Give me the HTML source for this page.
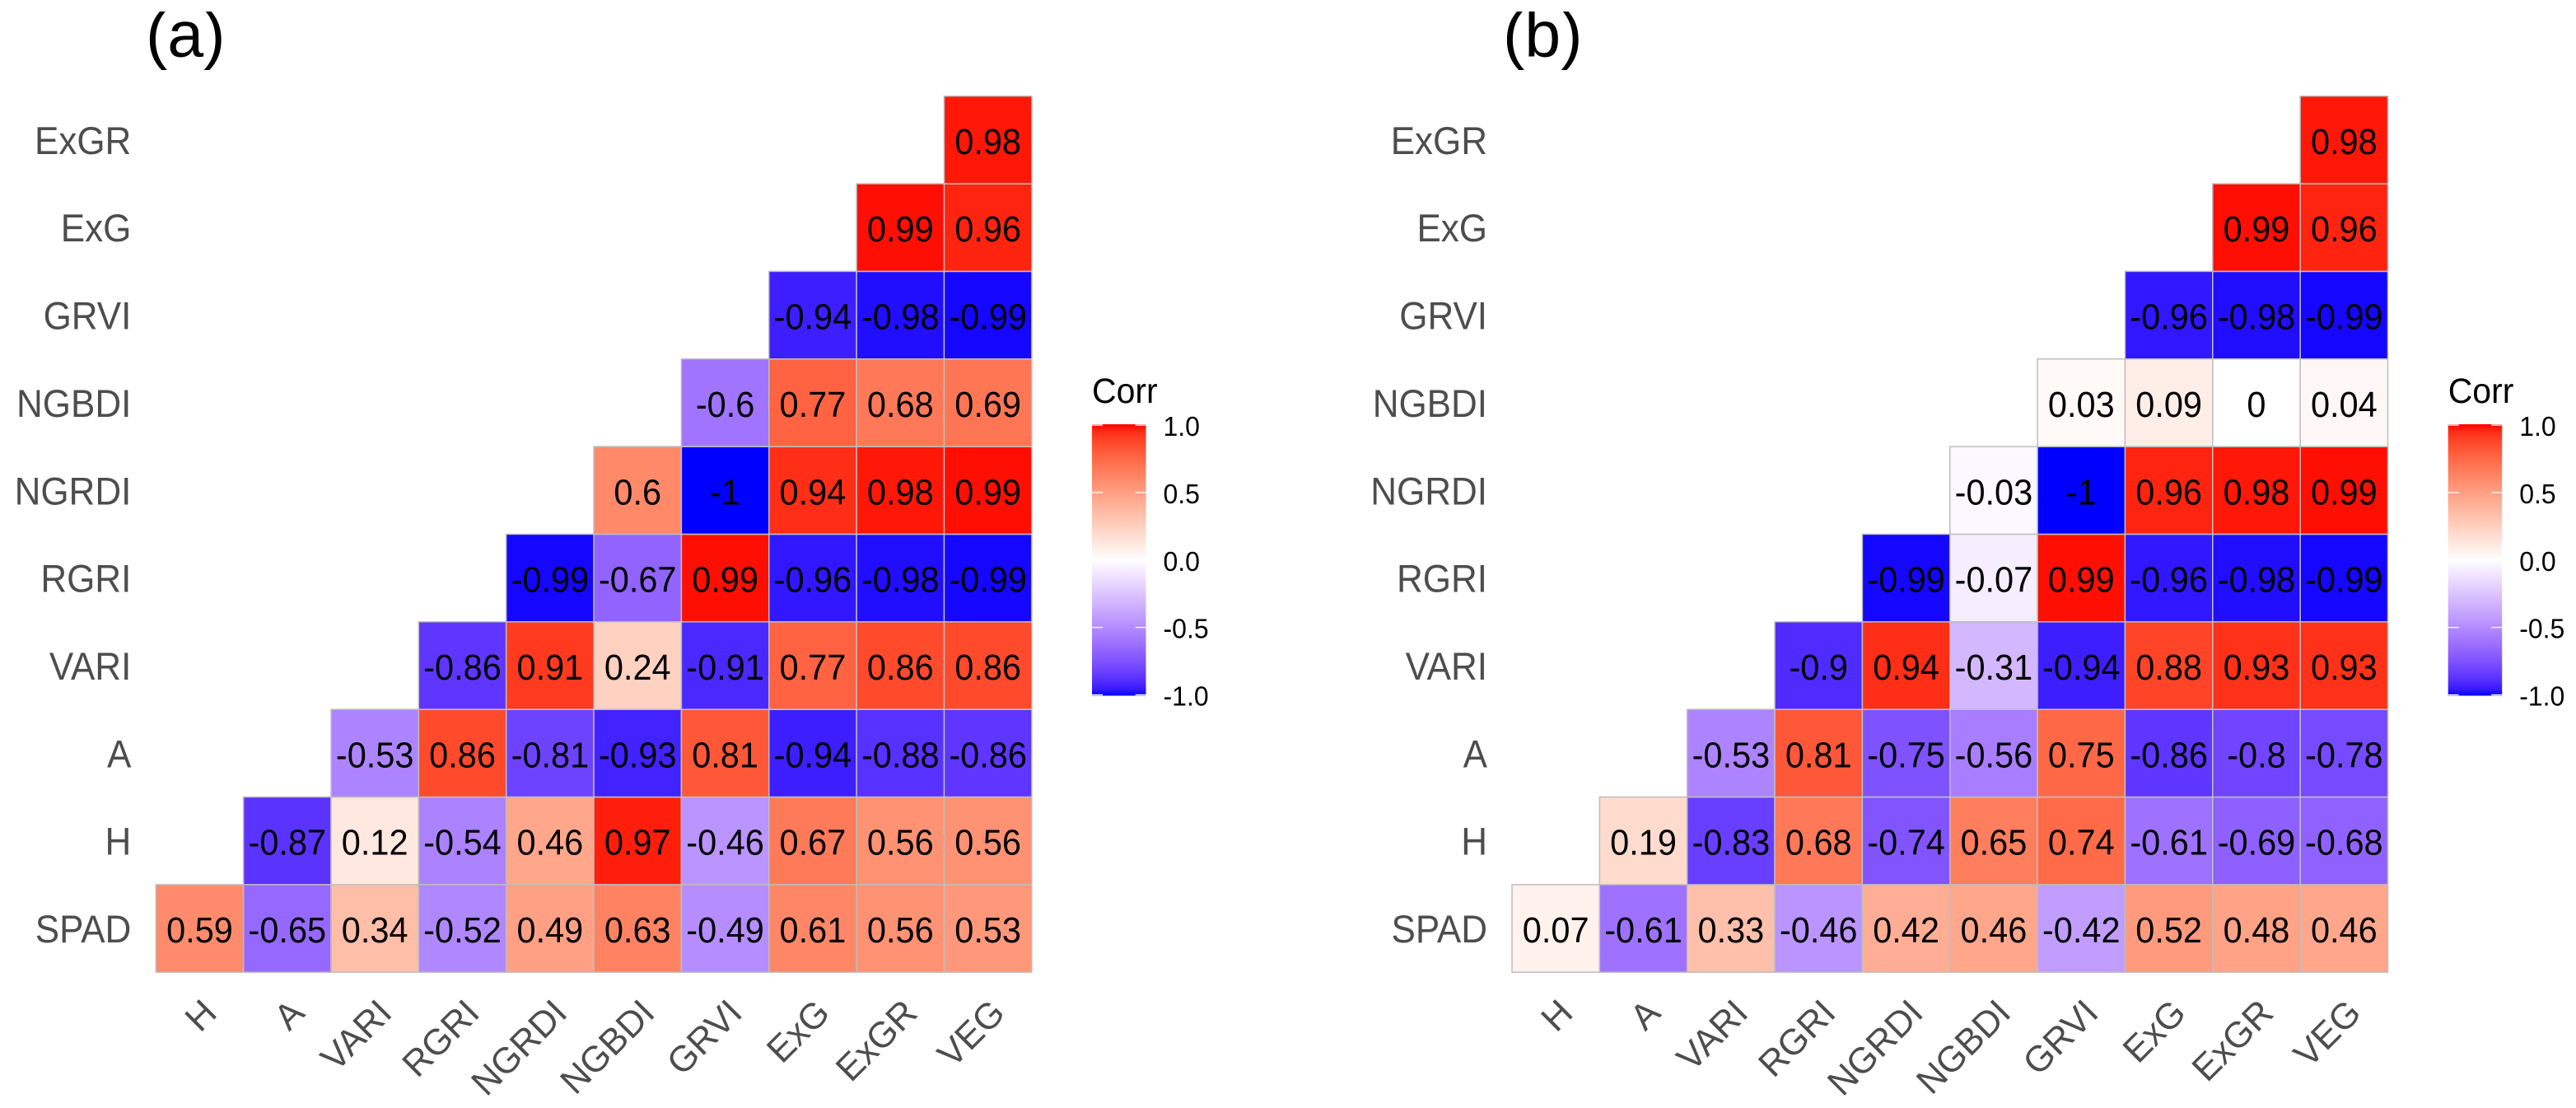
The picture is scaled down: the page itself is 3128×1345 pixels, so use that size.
<!DOCTYPE html>
<html lang="en">
<head>
<meta charset="utf-8">
<title>Correlation heatmaps (a) and (b)</title>
<style>
  html, body { margin: 0; padding: 0; background: #ffffff; }
  body { width: 3128px; height: 1345px; overflow: hidden; }
  svg { display: block; font-family: "Liberation Sans", Arial, sans-serif; }
</style>
</head>
<body>
<svg id="figure" xmlns="http://www.w3.org/2000/svg" width="3128" height="1345" viewBox="0 0 3128 1345">
  <rect x="0" y="0" width="3128" height="1345" fill="#ffffff"/>
  <defs id="defs">
    <clipPath id="title-clip"><rect x="0" y="14" width="3128" height="71"/></clipPath>
  </defs>
  <g id="panel-a"></g>
  <g id="panel-b"></g>
</svg>
<script>
// ---- Data ----
const xCategories = ["H", "A", "VARI", "RGRI", "NGRDI", "NGBDI", "GRVI", "ExG", "ExGR", "VEG"];
// y categories listed bottom-to-top
const yCategories = ["SPAD", "H", "A", "VARI", "RGRI", "NGRDI", "NGBDI", "GRVI", "ExG", "ExGR"];

// Rows bottom-to-top; each row starts at the first x category; missing upper-left cells are omitted.
const valuesA = [
  [0.59, -0.65, 0.34, -0.52, 0.49, 0.63, -0.49, 0.61, 0.56, 0.53],
  [null, -0.87, 0.12, -0.54, 0.46, 0.97, -0.46, 0.67, 0.56, 0.56],
  [null, null, -0.53, 0.86, -0.81, -0.93, 0.81, -0.94, -0.88, -0.86],
  [null, null, null, -0.86, 0.91, 0.24, -0.91, 0.77, 0.86, 0.86],
  [null, null, null, null, -0.99, -0.67, 0.99, -0.96, -0.98, -0.99],
  [null, null, null, null, null, 0.6, -1, 0.94, 0.98, 0.99],
  [null, null, null, null, null, null, -0.6, 0.77, 0.68, 0.69],
  [null, null, null, null, null, null, null, -0.94, -0.98, -0.99],
  [null, null, null, null, null, null, null, null, 0.99, 0.96],
  [null, null, null, null, null, null, null, null, null, 0.98]
];
const valuesB = [
  [0.07, -0.61, 0.33, -0.46, 0.42, 0.46, -0.42, 0.52, 0.48, 0.46],
  [null, 0.19, -0.83, 0.68, -0.74, 0.65, 0.74, -0.61, -0.69, -0.68],
  [null, null, -0.53, 0.81, -0.75, -0.56, 0.75, -0.86, -0.8, -0.78],
  [null, null, null, -0.9, 0.94, -0.31, -0.94, 0.88, 0.93, 0.93],
  [null, null, null, null, -0.99, -0.07, 0.99, -0.96, -0.98, -0.99],
  [null, null, null, null, null, -0.03, -1, 0.96, 0.98, 0.99],
  [null, null, null, null, null, null, 0.03, 0.09, 0, 0.04],
  [null, null, null, null, null, null, null, -0.96, -0.98, -0.99],
  [null, null, null, null, null, null, null, null, 0.99, 0.96],
  [null, null, null, null, null, null, null, null, null, 0.98]
];
const legendTicks = [1, 0.5, 0, -0.5, -1];
const legendTickLabels = ["1.0", "0.5", "0.0", "-0.5", "-1.0"];

// ---- Colour scale: diverging blue-white-red interpolated in Lab ----
function srgbToLinear(c) { c /= 255; return c <= 0.04045 ? c / 12.92 : Math.pow((c + 0.055) / 1.055, 2.4); }
function linearToSrgb(c) { const v = c <= 0.0031308 ? 12.92 * c : 1.055 * Math.pow(c, 1 / 2.4) - 0.055; return Math.round(Math.min(1, Math.max(0, v)) * 255); }
function rgbToLab(rgb) {
  const r = srgbToLinear(rgb[0]), g = srgbToLinear(rgb[1]), b = srgbToLinear(rgb[2]);
  const X = (0.4124564 * r + 0.3575761 * g + 0.1804375 * b) / 0.95047;
  const Y = 0.2126729 * r + 0.7151522 * g + 0.0721750 * b;
  const Z = (0.0193339 * r + 0.1191920 * g + 0.9503041 * b) / 1.08883;
  const f = t => t > 0.008856 ? Math.cbrt(t) : 7.787 * t + 16 / 116;
  return [116 * f(Y) - 16, 500 * (f(X) - f(Y)), 200 * (f(Y) - f(Z))];
}
function labToCss(lab) {
  const fy = (lab[0] + 16) / 116, fx = fy + lab[1] / 500, fz = fy - lab[2] / 200;
  const inv = t => t * t * t > 0.008856 ? t * t * t : (t - 16 / 116) / 7.787;
  const X = inv(fx) * 0.95047, Y = inv(fy), Z = inv(fz) * 1.08883;
  const r = 3.2404542 * X - 1.5371385 * Y - 0.4985314 * Z;
  const g = -0.9692660 * X + 1.8760108 * Y + 0.0415560 * Z;
  const b = 0.0556434 * X - 0.2040259 * Y + 1.0572252 * Z;
  return "rgb(" + linearToSrgb(r) + "," + linearToSrgb(g) + "," + linearToSrgb(b) + ")";
}
const labWhite = rgbToLab([255, 255, 255]);
const labRed = rgbToLab([255, 0, 0]);
const labBlue = rgbToLab([0, 0, 255]);
function fillColor(v) {
  const end = v >= 0 ? labRed : labBlue;
  const t = Math.min(1, Math.abs(v));
  return labToCss([0, 1, 2].map(i => labWhite[i] + (end[i] - labWhite[i]) * t));
}

// ---- Layout ----
const NS = "http://www.w3.org/2000/svg";
const CELL = 106.35;
const PLOT_TOP = 116.7;
const LEFT_A = 189.3;
const PANEL_SHIFT = 1646.7;
const N_ROWS = yCategories.length;
const BAR_LEFT = 1136.7;   // relative to the plot left edge
const BAR_WIDTH = 65.5;
const BAR_TOP = 515;
const BAR_BOTTOM = 844.5;
const TICK_TOP = 516;
const TICK_BOTTOM = 843.5;

function xScale(left, i) { return left + i * CELL; }
function yScale(r) { return PLOT_TOP + (N_ROWS - 1 - r) * CELL; }
function legendY(v) { return (TICK_TOP + TICK_BOTTOM) / 2 - v * (TICK_BOTTOM - TICK_TOP) / 2; }

function make(tag, attrs, parent) {
  const el = document.createElementNS(NS, tag);
  for (const k in attrs) el.setAttribute(k, attrs[k]);
  parent.appendChild(el);
  return el;
}
function addText(parent, str, x, y, size, fill, anchor, sx, sy, rotate) {
  let tf = "translate(" + x + "," + y + ")";
  if (rotate) tf += " rotate(" + rotate + ")";
  tf += " scale(" + sx + "," + sy + ")";
  const t = make("text", { x: 0, y: 0, transform: tf, "font-size": size, fill: fill, "text-anchor": anchor }, parent);
  t.textContent = str;
  return t;
}

const defs = document.getElementById("defs");
const grad = make("linearGradient", { id: "corr-gradient", x1: 0, y1: 0, x2: 0, y2: 1 }, defs);
for (let s = 0; s <= 40; s++) {
  const v = 1 - s / 20;
  make("stop", { offset: (s / 40), "stop-color": fillColor(v) }, grad);
}

function drawPanel(group, values, left, titleText, titleX) {
  const titleGroup = make("g", { "clip-path": "url(#title-clip)" }, group);
  const title = addText(titleGroup, titleText, titleX, 68.5, 79, "#000000", "start", 1, 1, 0);
  
  

  // y axis labels
  yCategories.forEach(function (name, r) {
    const label = addText(group, name, left - 30, yScale(r) + CELL / 2 + 17, 44, "#4D4D4D", "end", 1, 1.07, 0);
    
    
  });

  // x axis labels
  xCategories.forEach(function (name, i) {
    const label = addText(group, name, xScale(left, i) + CELL / 2 + 23, 1232, 44, "#4D4D4D", "end", 1, 1.0, -45);
    
    
  });

  // heatmap tiles
  values.forEach(function (row, r) {
    row.forEach(function (v, c) {
      if (v === null) return;
      const tile = make("rect", {
        x: xScale(left, c), y: yScale(r), width: CELL, height: CELL,
        fill: fillColor(v), stroke: "#BEBEBE", "stroke-width": 1.5
      }, group);
      
      
    });
  });

  // cell value labels
  values.forEach(function (row, r) {
    row.forEach(function (v, c) {
      if (v === null) return;
      const lab = addText(group, String(v), xScale(left, c) + CELL / 2, yScale(r) + CELL / 2 + 17, 41.5, "#000000", "middle", 1, 1.06, 0);
      
      
    });
  });

  // legend
  const barX = left + BAR_LEFT;
  const legendTitle = addText(group, "Corr", barX, 489, 41, "#000000", "start", 1, 1.05, 0);
  
  

  const bar = make("rect", { x: barX, y: BAR_TOP, width: BAR_WIDTH, height: BAR_BOTTOM - BAR_TOP, fill: "url(#corr-gradient)" }, group);
  
  

  legendTicks.forEach(function (v, i) {
    const y = legendY(v);
    const t1 = make("line", { x1: barX, x2: barX + 13, y1: y, y2: y, stroke: "#ffffff", "stroke-width": 1.3 }, group);
    
    
    const t2 = make("line", { x1: barX + BAR_WIDTH - 13, x2: barX + BAR_WIDTH, y1: y, y2: y, stroke: "#ffffff", "stroke-width": 1.3 }, group);
    
    
    const lab = addText(group, legendTickLabels[i], barX + BAR_WIDTH + 21, y + 13, 32, "#000000", "start", 1, 1.05, 0);
    
    
  });
}

drawPanel(document.getElementById("panel-a"), valuesA, LEFT_A, "(a)", 177);
drawPanel(document.getElementById("panel-b"), valuesB, LEFT_A + PANEL_SHIFT, "(b)", 1825);
</script>
</body>
</html>
